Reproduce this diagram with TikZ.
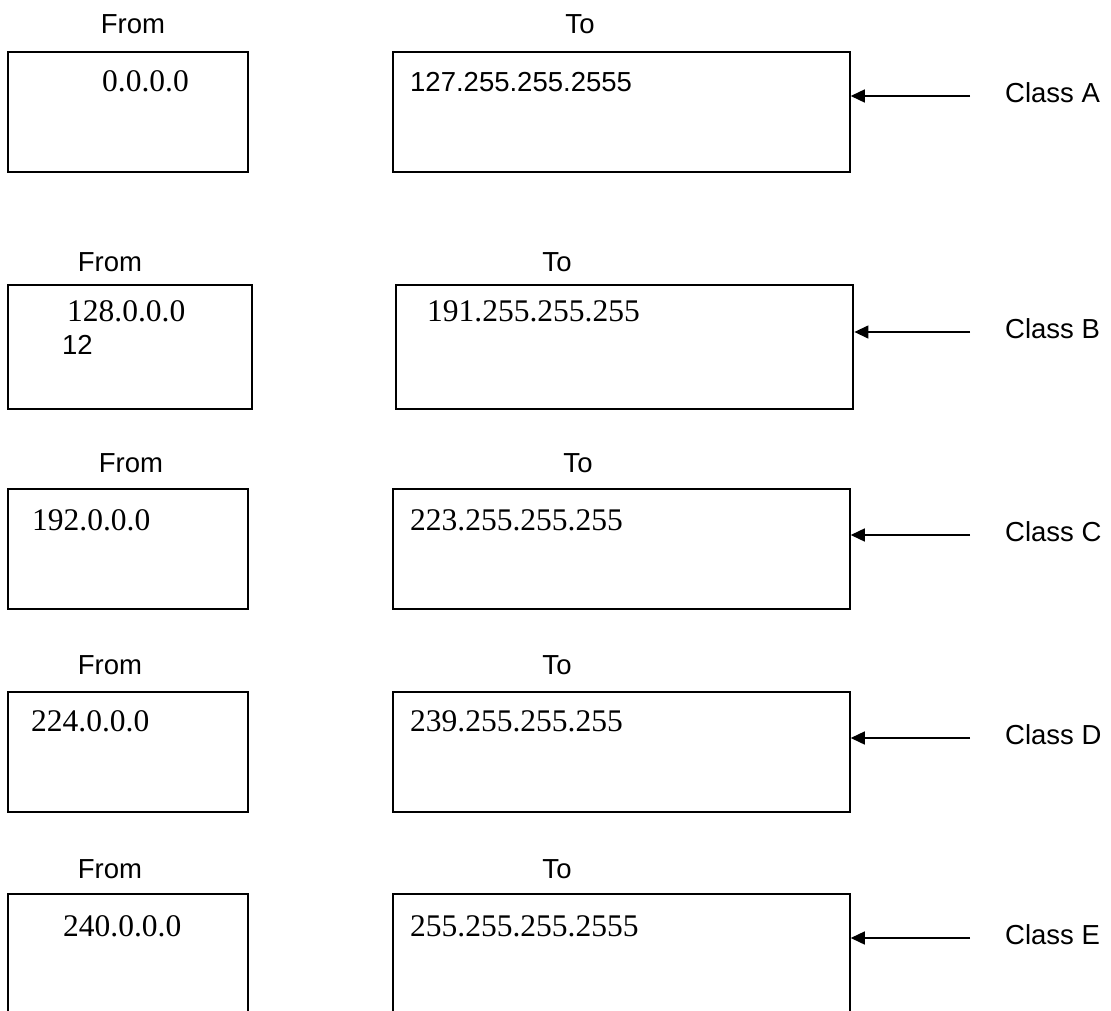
\documentclass[tikz,border=0pt]{standalone}
\usepackage{fontspec}
\setmainfont{Liberation Serif}
\newfontfamily\arialf{Liberation Sans}
\usetikzlibrary{arrows.meta}
\begin{document}
\begin{tikzpicture}[x=1pt,y=-1pt,
  boxst/.style={draw, rectangle, inner sep=0pt, line width=1.5pt},
  thickbox/.style={boxst, line width=2.8pt},
  sanslbl/.style={inner sep=0pt, font=\arialf\fontsize{27.5}{33}\selectfont},
  seriflbl/.style={inner sep=0pt, font=\fontsize{31.5}{38}\selectfont},
  arr/.style={line width=1.4pt, -{Triangle[length=14pt,width=13pt]}}]
\useasboundingbox (0,0) rectangle (1111,1011);
\clip (0,0) rectangle (1111,1011);
\fill[white] (0,0) rectangle (1111,1011);

% Row A
\node[sanslbl] (hfA) at (133,24) {From};
\node[sanslbl] (htA) at (580,24) {To};
\node[boxst, minimum width=240pt, minimum height=120pt] (fA) at (128,112) {};
\node[boxst, minimum width=457pt, minimum height=120pt] (tA) at (621.5,112) {};
\node[seriflbl, anchor=west] (vfA) at (102,81) {0.0.0.0};
\node[sanslbl, anchor=west] (vtA) at (410,82) {127.255.255.2555};
\node[sanslbl, anchor=west] (cA) at (1005,93) {Class A};
\coordinate (sA) at (970,96);
\draw[arr] (sA) -- (sA -| tA.east);

% Row B
\node[sanslbl] (hfB) at (110,262) {From};
\node[sanslbl] (htB) at (557,262) {To};
\node[thickbox, minimum width=244pt, minimum height=124pt] (fB) at (130,347) {};
\node[thickbox, minimum width=457pt, minimum height=124pt] (tB) at (624.5,347) {};
\node[seriflbl, anchor=west] (vfB) at (67,311) {128.0.0.0};
\node[sanslbl, anchor=west] (nB) at (62,345) {12};
\node[seriflbl, anchor=west] (vtB) at (427,311) {191.255.255.255};
\node[sanslbl, anchor=west] (cB) at (1005,329) {Class B};
\coordinate (sB) at (970,332);
\draw[arr] (sB) -- (sB -| tB.east);

% Row C
\node[sanslbl] (hfC) at (131,463) {From};
\node[sanslbl] (htC) at (578,463) {To};
\node[boxst, minimum width=240pt, minimum height=120pt] (fC) at (128,549) {};
\node[boxst, minimum width=457pt, minimum height=120pt] (tC) at (621.5,549) {};
\node[seriflbl, anchor=west] (vfC) at (32,520) {192.0.0.0};
\node[seriflbl, anchor=west] (vtC) at (410,520) {223.255.255.255};
\node[sanslbl, anchor=west] (cC) at (1005,532) {Class C};
\coordinate (sC) at (970,535);
\draw[arr] (sC) -- (sC -| tC.east);

% Row D
\node[sanslbl] (hfD) at (110,665) {From};
\node[sanslbl] (htD) at (557,665) {To};
\node[boxst, minimum width=240pt, minimum height=120pt] (fD) at (128,752) {};
\node[boxst, minimum width=457pt, minimum height=120pt] (tD) at (621.5,752) {};
\node[seriflbl, anchor=west] (vfD) at (31,721) {224.0.0.0};
\node[seriflbl, anchor=west] (vtD) at (410,721) {239.255.255.255};
\node[sanslbl, anchor=west] (cD) at (1005,735) {Class D};
\coordinate (sD) at (970,738);
\draw[arr] (sD) -- (sD -| tD.east);

% Row E (cut off at the bottom)
\node[sanslbl] (hfE) at (110,869) {From};
\node[sanslbl] (htE) at (557,869) {To};
\node[boxst, minimum width=240pt, minimum height=140pt] (fE) at (128,964) {};
\node[boxst, minimum width=457pt, minimum height=140pt] (tE) at (621.5,964) {};
\node[seriflbl, anchor=west] (vfE) at (63,926) {240.0.0.0};
\node[seriflbl, anchor=west] (vtE) at (410,926) {255.255.255.2555};
\node[sanslbl, anchor=west] (cE) at (1005,935) {Class E};
\coordinate (sE) at (970,938);
\draw[arr] (sE) -- (sE -| tE.east);
\end{tikzpicture}
\end{document}
